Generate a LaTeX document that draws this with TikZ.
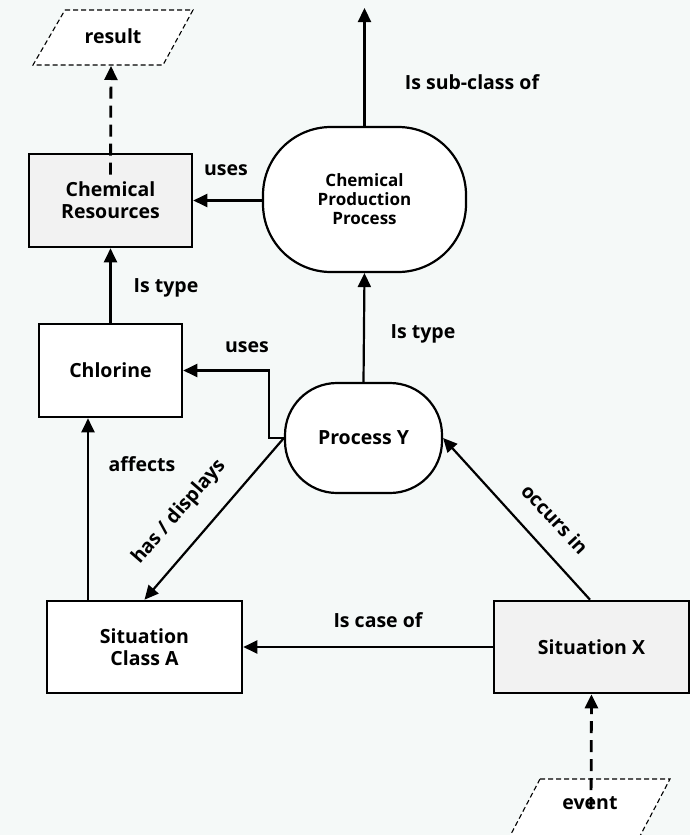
\documentclass[tikz,border=0pt]{standalone}
\usepackage{fontspec}
\setmainfont{Open Sans}
\usetikzlibrary{arrows.meta,calc}
\definecolor{bgmint}{HTML}{F5F9F8}
\definecolor{boxgray}{HTML}{F2F2F2}
\tikzset{
  lbl/.style={font=\bfseries\fontsize{19.5}{22}\selectfont, inner sep=0pt},
  conceptbox/.style={draw=black, line width=2.6pt, fill=white, inner sep=0pt,
    align=center, font=\bfseries\fontsize{19.5}{22}\selectfont},
  grayfill/.style={fill=boxgray},
  roundbox/.style={draw=black, line width=2.2pt, fill=white, inner sep=0pt,
    align=center, font=\bfseries\fontsize{19.5}{22}\selectfont},
  ioshape/.style={draw=black, line width=1.1pt, dash pattern=on 5pt off 3pt, fill=white},
  rel/.style={line width=2.2pt, -{Triangle[length=14pt,width=13pt]}},
  flowdash/.style={line width=2.8pt, dash pattern=on 12pt off 7pt,
    -{Triangle[length=14pt,width=13pt]}},
}
\begin{document}
\begin{tikzpicture}[x=1pt,y=-1pt]
  \fill[bgmint] (0,0) rectangle (690,835);
  \useasboundingbox (0,0) rectangle (690,835);

  % input / output parallelograms
  \draw[ioshape] (65,10) -- (193,10) -- (163,65) -- (33,65) -- cycle;
  \node[lbl] (result) at (113,36) {result};
  \coordinate (resultin) at (111,66);
  \draw[ioshape] (540,779) -- (670,779) -- (640,836) -- (510,836) -- cycle;
  \node[lbl] (event) at (590,803) {event};

  % concept boxes
  \node[conceptbox, grayfill, minimum width=163pt, minimum height=93pt] (cres) at (110.5,200.5)
        {\fontsize{19.5}{25}\selectfont Chemical\\Resources};
  \node[conceptbox, minimum width=143pt, minimum height=93pt] (chl) at (110.5,370.5) {Chlorine};
  \node[conceptbox, minimum width=195pt, minimum height=92pt] (sita) at (144.5,647)
        {\fontsize{19.5}{20}\selectfont Situation\\Class A};
  \node[conceptbox, grayfill, minimum width=195pt, minimum height=92pt] (sitx) at (591.5,647) {Situation X};

  % process shapes
  \node[roundbox, rounded corners=68pt, minimum width=203pt, minimum height=145pt,
        font=\bfseries\fontsize{17}{19}\selectfont] (cpp) at (364.5,199.5)
        {Chemical\\Production\\Process};
  \node[roundbox, rounded corners=52pt, minimum width=157pt, minimum height=110pt] (py) at (363.5,438) {Process Y};

  % free end of the super-class link
  \coordinate (supertop) at (364.5,8);

  % relations
  \draw[rel] (cpp.north) -- (supertop);
  \node[lbl] at (472,82) {Is sub-class of};

  \draw[rel] (cpp.west |- cres.east) -- (cres.east);
  \node[lbl] at (226,170) {uses};

  \draw[rel] (chl.north) -- (cres.south);
  \node[lbl] at (166,288) {Is type};

  \draw[rel] (py.north) -- (cpp.south);
  \node[lbl] at (423,334) {Is type};

  \draw[rel] (py.west) -- ++(-15,0) |- (chl.east);
  \node[lbl] at (247,347) {uses};

  \draw[rel] (sita.north -| 88,0) -- (chl.south -| 88,0);
  \node[lbl] at (142,464) {affects};

  \draw[rel] (py.west) -- (sita.north);
  \node[lbl, rotate=49] at (179,512) {has / displays};

  \draw[rel] (sitx.west) -- (sita.east);
  \node[lbl] at (378,620) {Is case of};

  \draw[rel] (sitx.north -| 590,0) -- (py.east);
  \node[lbl, rotate=-47] at (555,519) {occurs in};

  % dashed flows
  \draw[flowdash] ($(cres.north)+(0,22)$) -- (resultin);
  \draw[flowdash] ($(event.center)+(1,6)$) -- (sitx.south);
\end{tikzpicture}
\end{document}
